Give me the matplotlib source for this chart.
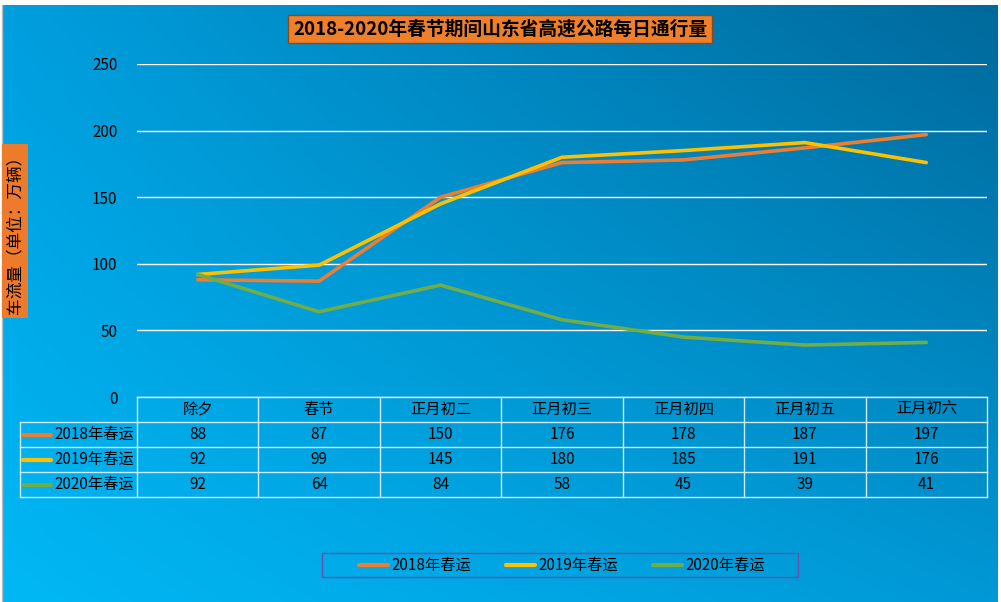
import numpy as np
import matplotlib
import matplotlib.pyplot as plt
from matplotlib.lines import Line2D
from matplotlib.patches import Rectangle

matplotlib.use('Agg')
plt.rcParams['font.family'] = ['Noto Sans CJK SC', 'DejaVu Sans']

# data
days = ["除夕", "春节", "正月初二", "正月初三", "正月初四", "正月初五", "正月初六"]
series_names = ["2018年春运", "2019年春运", "2020年春运"]
v2018 = [88, 87, 150, 176, 178, 187, 197]
v2019 = [92, 99, 145, 180, 185, 191, 176]
v2020 = [92, 64, 84, 58, 45, 39, 41]
yticks = [0, 50, 100, 150, 200, 250]
colors = ["#ED7D31", "#FFC000", "#70AD47"]

W, H = 1001, 602
fig = plt.figure(figsize=(W / 100, H / 100), dpi=100, facecolor="white")


def fx(px):
    return px / W


def fy(py):
    return 1 - py / H


# gradient background
bg = fig.add_axes([fx(3), 0, fx(998 - 3), (602 - 5) / H])
bg.set_axis_off()
tl = np.array([0, 158, 222]) / 255
tr = np.array([0, 105, 155]) / 255
bl = np.array([0, 184, 245]) / 255
br = np.array([0, 152, 214]) / 255
u = np.linspace(0, 1, 300)[None, :, None]
v = np.linspace(0, 1, 200)[:, None, None]
img = (1 - v) * ((1 - u) * tl + u * tr) + v * ((1 - u) * bl + u * br)
bg.imshow(img, aspect="auto", extent=[0, 1, 0, 1])
fig.add_artist(Line2D([fx(2), fx(2)], [0, fy(5)], color="#BBBBBB", linewidth=1))

# main plot
left, right, top, bottom = 137, 987, 64, 397
ax = fig.add_axes([fx(left), fy(bottom), fx(right - left), (bottom - top) / H])
ax.patch.set_alpha(0)
for s in ax.spines.values():
    s.set_visible(False)
ax.set_xlim(-0.5, len(days) - 0.5)
ax.set_ylim(0, 250)
ax.set_yticks(yticks)
ax.set_yticklabels([str(t) for t in yticks], fontsize=11, color="black")
ax.tick_params(axis="y", length=0, pad=14)
ax.set_xticks([])
ax.grid(axis="y", color="white", linewidth=1)
ax.set_axisbelow(True)

x = np.arange(len(days))
for vals, c in zip([v2018, v2019, v2020], colors):
    ax.plot(x, vals, color=c, linewidth=2.6, solid_capstyle="round")

# data table
line_c = "#CFE9F7"
col_w = (right - left) / len(days)
row_h = 25
t0 = bottom
for r in range(5):
    yy = t0 + r * row_h
    x0 = left if r == 0 else 20
    fig.add_artist(Line2D([fx(x0), fx(right)], [fy(yy), fy(yy)], color=line_c, linewidth=1))
for k in range(len(days) + 1):
    xx = left + k * col_w
    fig.add_artist(Line2D([fx(xx), fx(xx)], [fy(t0), fy(t0 + 4 * row_h)], color=line_c, linewidth=1))
fig.add_artist(Line2D([fx(20), fx(20)], [fy(t0 + row_h), fy(t0 + 4 * row_h)], color=line_c, linewidth=1))

for k, d in enumerate(days):
    fig.text(fx(left + (k + 0.5) * col_w), fy(t0 + row_h / 2), d, ha="center", va="center", fontsize=11)

for r, (name, vals, c) in enumerate(zip(series_names, [v2018, v2019, v2020], colors)):
    yc = t0 + (r + 1.5) * row_h
    fig.add_artist(Line2D([fx(23), fx(51)], [fy(yc), fy(yc)], color=c, linewidth=3, solid_capstyle="round"))
    fig.text(fx(54), fy(yc), name, ha="left", va="center", fontsize=11)
    for k, val in enumerate(vals):
        fig.text(fx(left + (k + 0.5) * col_w), fy(yc), str(val), ha="center", va="center", fontsize=11)

# title
fig.text(fx(500), fy(29), "2018-2020年春节期间山东省高速公路每日通行量", ha="center", va="center",
         fontsize=13.5, fontweight="bold", color="black",
         bbox=dict(boxstyle="square,pad=0.25", facecolor="#F07F2A", edgecolor="#8B4A1A", linewidth=1))

# y label
fig.text(fx(15), fy(231), "车流量（单位：万辆）", ha="center", va="center", rotation=90,
         fontsize=12, color="black",
         bbox=dict(boxstyle="square,pad=0.25", facecolor="#EE7A2C", edgecolor="none"))

# legend
fig.add_artist(Rectangle((fx(322), fy(577)), fx(798 - 322), (577 - 553) / H, transform=fig.transFigure,
                         facecolor="none", edgecolor="#6A4FB0", linewidth=1))
leg_x = [359, 506, 653]
for lx, name, c in zip(leg_x, series_names, colors):
    fig.add_artist(Line2D([fx(lx), fx(lx + 29)], [fy(565), fy(565)], color=c, linewidth=3, solid_capstyle="round"))
    fig.text(fx(lx + 32), fy(565), name, ha="left", va="center", fontsize=11)

fig.savefig("out.png", dpi=100, facecolor=fig.get_facecolor())
